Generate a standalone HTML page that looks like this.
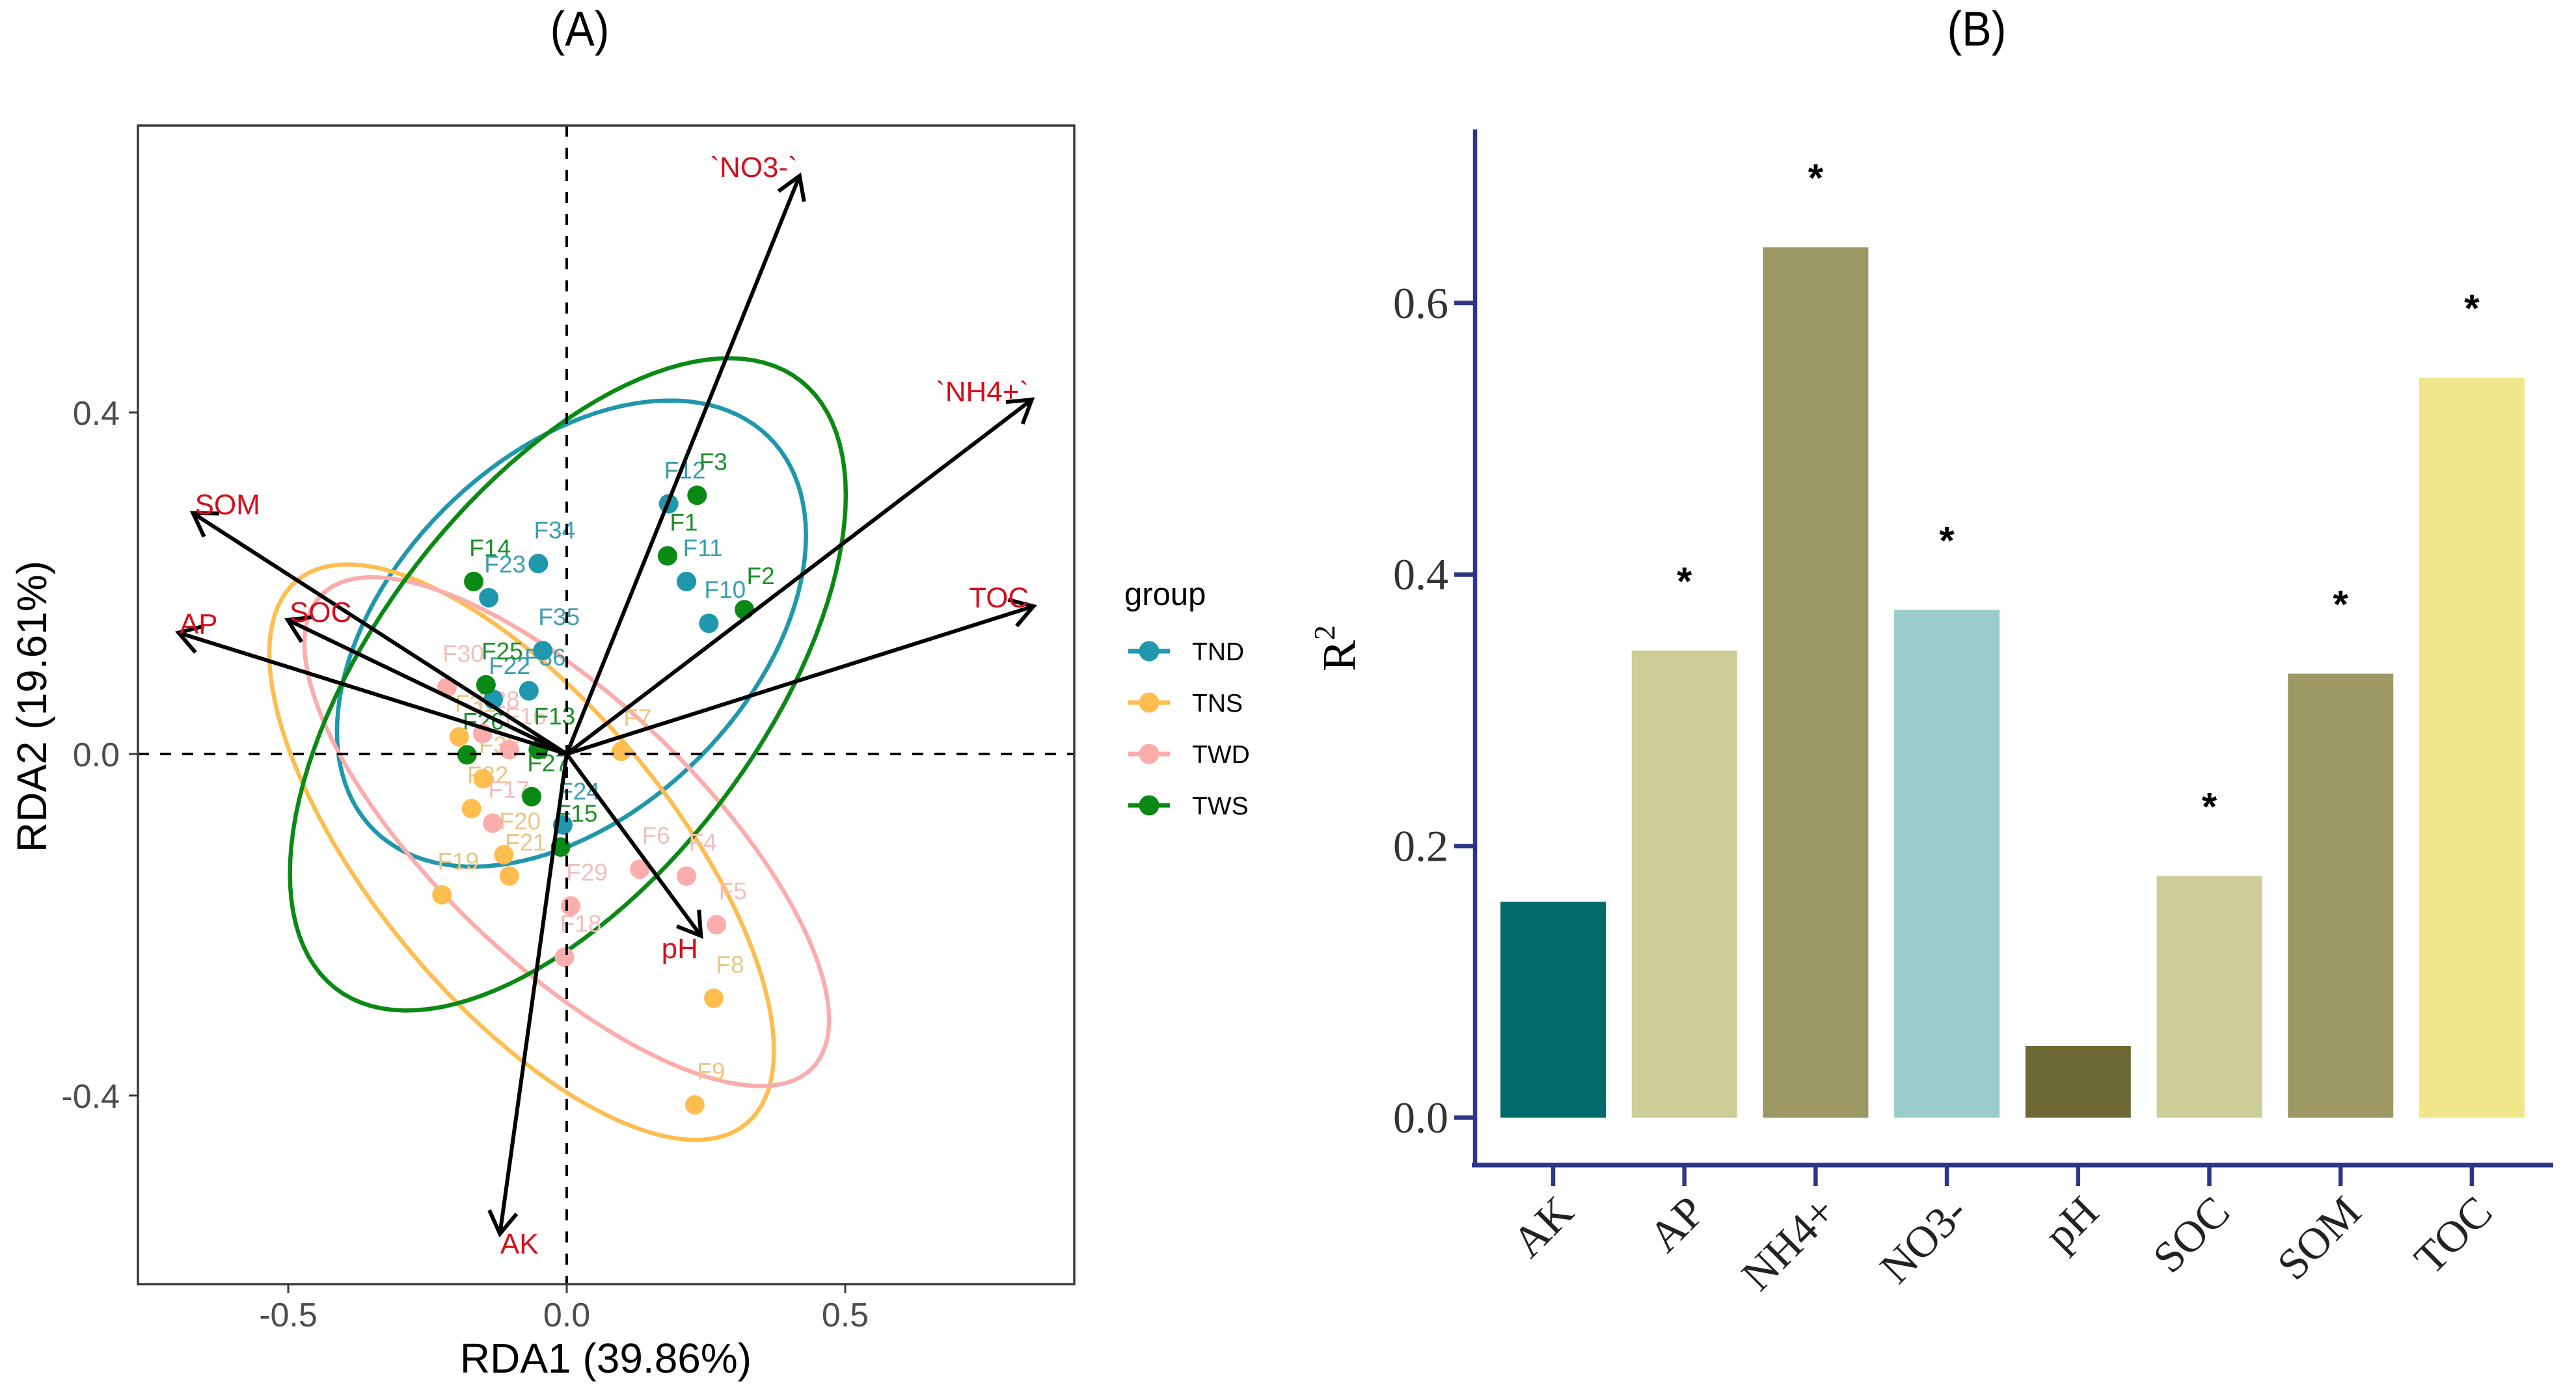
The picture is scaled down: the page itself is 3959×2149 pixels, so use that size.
<!DOCTYPE html>
<html lang="en">
<head>
<meta charset="utf-8">
<title>RDA ordination and R-squared bar chart</title>
<style>
html,body{margin:0;padding:0;background:#fff;}
svg{display:block;}
text{font-family:"Liberation Sans",sans-serif;}
.serif{font-family:"Liberation Serif",serif;}
</style>
</head>
<body>
<svg id="figure" xmlns="http://www.w3.org/2000/svg" width="3959" height="2149" viewBox="0 0 3959 2149">
  <rect x="0" y="0" width="3959" height="2149" fill="#fff"/>
  <text transform="translate(891,70) scale(0.91,1)" font-size="75" text-anchor="middle" fill="#000">(A)</text>
  <text transform="translate(3038,70) scale(0.91,1)" font-size="75" text-anchor="middle" fill="#000">(B)</text>

  <g id="rda"></g>
  <rect x="212" y="193" width="1439" height="1781" fill="none" stroke="#3a3a3a" stroke-width="3.5"/>
  <text x="931" y="2110" font-size="64" text-anchor="middle" fill="#000">RDA1 (39.86%)</text>
  <text transform="translate(71,1086) rotate(-90)" font-size="64" text-anchor="middle" fill="#000">RDA2 (19.61%)</text>

  <g>
    <text x="1728" y="930" font-size="49" fill="#000">group</text>
    <g>
      <line x1="1734" x2="1798" y1="1001" y2="1001" stroke="#1F97AC" stroke-width="7"/>
      <circle cx="1766" cy="1001" r="15.5" fill="#1F97AC"/>
      <text x="1832" y="1015" font-size="39" fill="#000">TND</text>
    </g>
    <g>
      <line x1="1734" x2="1798" y1="1080" y2="1080" stroke="#FDBE4F" stroke-width="7"/>
      <circle cx="1766" cy="1080" r="15.5" fill="#FDBE4F"/>
      <text x="1832" y="1094" font-size="39" fill="#000">TNS</text>
    </g>
    <g>
      <line x1="1734" x2="1798" y1="1159" y2="1159" stroke="#FBADAD" stroke-width="7"/>
      <circle cx="1766" cy="1159" r="15.5" fill="#FBADAD"/>
      <text x="1832" y="1173" font-size="39" fill="#000">TWD</text>
    </g>
    <g>
      <line x1="1734" x2="1798" y1="1238" y2="1238" stroke="#0A8A14" stroke-width="7"/>
      <circle cx="1766" cy="1238" r="15.5" fill="#0A8A14"/>
      <text x="1832" y="1252" font-size="39" fill="#000">TWS</text>
    </g>
  </g>

  <g id="bars"></g>
  <text class="serif" transform="translate(2082,1032) rotate(-90)" font-size="72" fill="#000">R<tspan dy="-31" font-size="46">2</tspan></text>
</svg>

<script>
// ---------- Panel A data (RDA1 / RDA2 score units) ----------
const groupNames = ['TND', 'TNS', 'TWD', 'TWS'];
const groupColors = ['#1F97AC', '#FDBE4F', '#FBADAD', '#0A8A14'];
const groupLabelColors = ['#3C9DB0', '#EBC685', '#F3BEBE', '#1E8F28'];

const sampleNames = ['F12','F11','F10','F34','F23','F35','F36','F22','F24',
  'F7','F31','F33','F32','F20','F21','F19','F8','F9',
  'F30','F28','F16','F17','F29','F18','F6','F4','F5',
  'F3','F1','F2','F14','F25','F13','F26','F27','F15'];
const sampleGroups = [0,0,0,0,0,0,0,0,0, 1,1,1,1,1,1,1,1,1, 2,2,2,2,2,2,2,2,2, 3,3,3,3,3,3,3,3,3];
const sampleRDA1 = [0.183,0.215,0.255,-0.051,-0.140,-0.043,-0.068,-0.132,-0.007,
  0.098,-0.193,-0.150,-0.171,-0.113,-0.103,-0.224,0.264,0.230,
  -0.215,-0.151,-0.103,-0.133,0.007,-0.004,0.131,0.215,0.269,
  0.234,0.181,0.319,-0.167,-0.145,-0.051,-0.179,-0.063,-0.011];
const sampleRDA2 = [0.293,0.202,0.153,0.223,0.183,0.121,0.074,0.064,-0.083,
  0.003,0.020,-0.029,-0.064,-0.118,-0.143,-0.165,-0.286,-0.411,
  0.078,0.024,0.005,-0.081,-0.178,-0.238,-0.135,-0.143,-0.200,
  0.303,0.232,0.169,0.202,0.081,0.005,-0.001,-0.050,-0.109];

const ellipseCenterX = [0.0085, -0.081, 0.000, 0.002];
const ellipseCenterY = [0.141, -0.115, -0.091, 0.0815];
const ellipseSpreadX = [0.421, 0.453, 0.471, 0.499];
const ellipseSpreadY = [0.273, 0.337, 0.298, 0.382];
const ellipseCorr = [0.42, -0.69, -0.74, 0.58];

const vectorNames = ['`NO3-`', '`NH4+`', 'TOC', 'SOM', 'SOC', 'AP', 'AK', 'pH'];
const vectorRDA1 = [0.418, 0.835, 0.838, -0.671, -0.501, -0.697, -0.120, 0.241];
const vectorRDA2 = [0.677, 0.415, 0.173, 0.282, 0.157, 0.142, -0.562, -0.213];
const vectorLabelRDA1 = [0.336, 0.746, 0.776, -0.609, -0.442, -0.661, -0.085, 0.203];
const vectorLabelRDA2 = [0.688, 0.425, 0.184, 0.293, 0.167, 0.153, -0.573, -0.227];

const rdaXTicks = [-0.5, 0, 0.5];
const rdaXTickLabels = ['-0.5', '0.0', '0.5'];
const rdaYTicks = [0.4, 0, -0.4];
const rdaYTickLabels = ['0.4', '0.0', '-0.4'];

// ---------- Panel B data ----------
const barCategories = ['AK', 'AP', 'NH4+', 'NO3-', 'pH', 'SOC', 'SOM', 'TOC'];
const barValues = [0.159, 0.344, 0.641, 0.374, 0.0527, 0.178, 0.327, 0.545];
const barColors = ['#016B69', '#CDCD97', '#9B9863', '#9BCCCC', '#6C6935', '#CCCD97', '#9C9964', '#EFE78A'];
const barSignificant = [false, true, true, true, false, true, true, true];
const barYTicks = [0, 0.2, 0.4, 0.6];
const barYTickLabels = ['0.0', '0.2', '0.4', '0.6'];

// ---------- Axis functions ----------
function rdaX(v) { return 871 + 856 * v; }
function rdaY(v) { return 1159 - 1312.5 * v; }
function barX(i) { return 2387 + 201.7 * i; }
function barY(v) { return 1718 - 2087 * v; }

const NS = 'http://www.w3.org/2000/svg';
function make(parent, tag, props, text) {
  const el = document.createElementNS(NS, tag);
  for (const k in props) el.setAttribute(k, props[k]);
  if (text !== undefined) el.textContent = text;
  parent.appendChild(el);
  return el;
}
const rda = document.getElementById('rda');
const bars = document.getElementById('bars');

// ---------- Panel A drawing ----------
groupNames.forEach(function (g, i) {
  const phi = Math.acos(ellipseCorr[i]);
  const pts = [];
  for (let d = 0; d < 360; d += 3) {
    const t = d * Math.PI / 180;
    const vx = ellipseCenterX[i] + ellipseSpreadX[i] * Math.cos(t);
    const vy = ellipseCenterY[i] + ellipseSpreadY[i] * Math.cos(t - phi);
    pts.push(rdaX(vx).toFixed(1) + ',' + rdaY(vy).toFixed(1));
  }
  const el = make(rda, 'polygon', {points: pts.join(' '), fill: 'none', stroke: groupColors[i], 'stroke-width': 6.5});
  
  
});

sampleNames.forEach(function (n, i) {
  const el = make(rda, 'text', {x: rdaX(sampleRDA1[i]) + 25, y: rdaY(sampleRDA2[i]) - 39, 'font-size': 37, 'text-anchor': 'middle', fill: groupLabelColors[sampleGroups[i]]}, n);
  
  
});

sampleNames.forEach(function (n, i) {
  const el = make(rda, 'circle', {cx: rdaX(sampleRDA1[i]), cy: rdaY(sampleRDA2[i]), r: 15, fill: groupColors[sampleGroups[i]]});
  
  
});

const zeroH = make(rda, 'line', {x1: 212, x2: 1651, y1: rdaY(0), y2: rdaY(0), stroke: '#000', 'stroke-width': 4, 'stroke-dasharray': '17 17'});


const zeroV = make(rda, 'line', {x1: rdaX(0), x2: rdaX(0), y1: 193, y2: 1974, stroke: '#000', 'stroke-width': 4, 'stroke-dasharray': '17 17'});



vectorNames.forEach(function (n, i) {
  const x0 = rdaX(0), y0 = rdaY(0), x1 = rdaX(vectorRDA1[i]), y1 = rdaY(vectorRDA2[i]);
  const ang = Math.atan2(y1 - y0, x1 - x0), len = 40, spread = 32 * Math.PI / 180;
  const shaft = make(rda, 'line', {x1: x0, y1: y0, x2: x1, y2: y1, stroke: '#000', 'stroke-width': 6});
  
  
  const hx1 = x1 - len * Math.cos(ang - spread), hy1 = y1 - len * Math.sin(ang - spread);
  const hx2 = x1 - len * Math.cos(ang + spread), hy2 = y1 - len * Math.sin(ang + spread);
  const head = make(rda, 'polyline', {points: hx1 + ',' + hy1 + ' ' + x1 + ',' + y1 + ' ' + hx2 + ',' + hy2, fill: 'none', stroke: '#000', 'stroke-width': 6});
  
  
});

vectorNames.forEach(function (n, i) {
  const el = make(rda, 'text', {x: rdaX(vectorLabelRDA1[i]), y: rdaY(vectorLabelRDA2[i]) + 16, 'font-size': 44, 'text-anchor': 'middle', fill: '#D2101C'}, n);
  
  
});

rdaXTicks.forEach(function (v, i) {
  const t = make(rda, 'line', {x1: rdaX(v), x2: rdaX(v), y1: 1974, y2: 1988, stroke: '#3a3a3a', 'stroke-width': 3});
  
  
  const l = make(rda, 'text', {x: rdaX(v), y: 2039, 'font-size': 52, 'text-anchor': 'middle', fill: '#4d4d4d'}, rdaXTickLabels[i]);
  
  
});
rdaYTicks.forEach(function (v, i) {
  const t = make(rda, 'line', {x1: 198, x2: 212, y1: rdaY(v), y2: rdaY(v), stroke: '#3a3a3a', 'stroke-width': 3});
  
  
  const l = make(rda, 'text', {x: 184, y: rdaY(v) + 19, 'font-size': 52, 'text-anchor': 'end', fill: '#4d4d4d'}, rdaYTickLabels[i]);
  
  
});

// ---------- Panel B drawing ----------
barCategories.forEach(function (c, i) {
  const top = barY(barValues[i]);
  const r = make(bars, 'rect', {x: barX(i) - 81, y: top, width: 162, height: barY(0) - top, fill: barColors[i]});
  
  
  if (barSignificant[i]) {
    const s = make(bars, 'text', {x: barX(i), y: barY(barValues[i]) - 115 + 29, 'font-size': 60, 'font-weight': 'bold', 'text-anchor': 'middle', fill: '#000'}, '*');
    
    
  }
  const t = make(bars, 'line', {x1: barX(i), x2: barX(i), y1: 1791, y2: 1823, stroke: '#2D3686', 'stroke-width': 6.5});
  
  
  const lx = barX(i) + 35;
  const l = make(bars, 'text', {x: lx, y: 1867, 'font-size': 68, 'text-anchor': 'end', fill: '#222', 'class': 'serif', transform: 'rotate(-45 ' + lx + ' 1867)'}, c);
  
  
});
barYTicks.forEach(function (v, i) {
  const t = make(bars, 'line', {x1: 2235, x2: 2267, y1: barY(v), y2: barY(v), stroke: '#2D3686', 'stroke-width': 7});
  
  
  const l = make(bars, 'text', {x: 2226, y: barY(v) + 23, 'font-size': 68, 'text-anchor': 'end', fill: '#333', 'class': 'serif'}, barYTickLabels[i]);
  
  
});
const barYAxis = make(bars, 'line', {x1: 2267, x2: 2267, y1: 199, y2: 1794, stroke: '#2D3686', 'stroke-width': 6.5});


const barXAxis = make(bars, 'line', {x1: 2262, x2: 3924, y1: 1791, y2: 1791, stroke: '#2D3686', 'stroke-width': 7});


</script>
</body>
</html>
